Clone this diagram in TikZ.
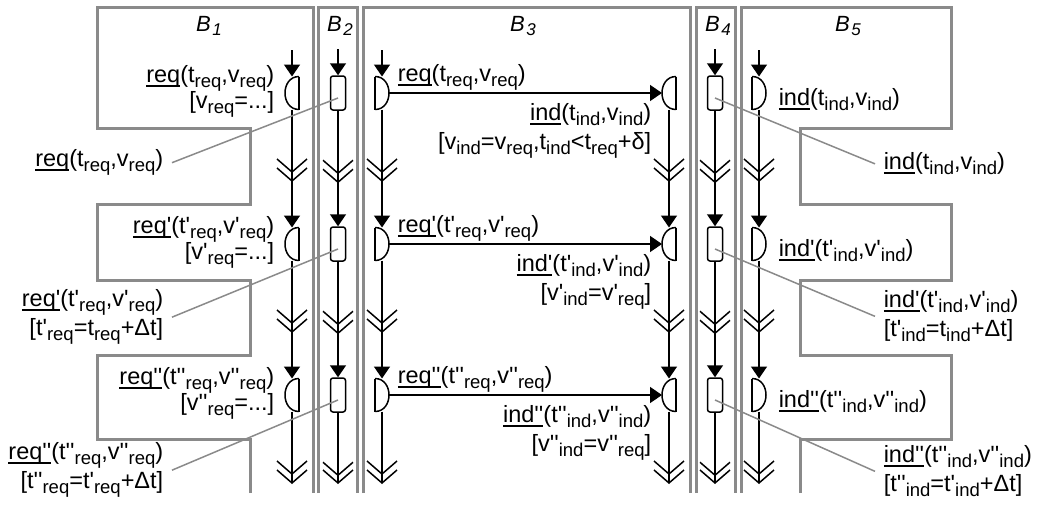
\documentclass[tikz,border=0pt]{standalone}
\usepackage{fontspec}
\setmainfont{Liberation Sans}
\usetikzlibrary{arrows.meta, decorations.markings}

\definecolor{wallgray}{RGB}{138,138,138}
\newcommand{\labfont}{\fontsize{23.5}{29}\selectfont\lineskiplimit=-20pt\relax}
\newcommand{\lo}[1]{\raisebox{-5pt}{\fontsize{18.5}{18.5}\selectfont #1}}
\newcommand{\tk}{\textquotesingle}
\newcommand{\ud}[1]{\setbox0=\hbox{#1}\rlap{\rule[-4pt]{\wd0}{1.5pt}}\box0}
\newcommand{\blk}[1]{\textit{B\kern1.5pt\raisebox{-4.5pt}{\fontsize{17}{17}\selectfont #1}}}

\begin{document}
\begin{tikzpicture}[x=1pt, y=-1pt, line width=1.5pt,
  wall/.style={draw=wallgray, line width=3pt},
  lead/.style={draw=wallgray, line width=1.5pt},
  title/.style={anchor=base, inner sep=0, font=\fontsize{22}{26}\selectfont},
  lab/.style={inner sep=0, font=\labfont},
  buf/.style={draw, rounded corners=2.5pt, minimum width=15pt, minimum height=34pt, inner sep=0},
  portl/.style={minimum width=14pt, minimum height=33pt, inner sep=0, outer sep=0,
    append after command={(\tikzlastnode.north east) edge (\tikzlastnode.south east)
      (\tikzlastnode.north east) edge[out=180, in=180, looseness=1.45] (\tikzlastnode.south east)}},
  portr/.style={minimum width=14pt, minimum height=33pt, inner sep=0, outer sep=0,
    append after command={(\tikzlastnode.north west) edge (\tikzlastnode.south west)
      (\tikzlastnode.north west) edge[out=0, in=0, looseness=1.45] (\tikzlastnode.south west)}},
  tri/.tip={Triangle[length=12pt, width=16pt]},
  chev/.tip={Straight Barb[length=13pt, width=30pt]},
  feed/.style={-tri},
  flow/.style={-tri, postaction=decorate, decoration={markings,
    mark=at position 63.5pt with {\arrow{chev}}, mark=at position 72.5pt with {\arrow{chev}}}},
  flowend/.style={-chev, postaction=decorate, decoration={markings,
    mark=at position 63.5pt with {\arrow{chev}}}}
]
\useasboundingbox (0,0) rectangle (1039,506);

% Blocks
\draw[wall] (250,493) |- (97,439) |- (250,355) |- (97,280) |- (250,204) |- (97,128) |- (313,7) -- (313,493);
\draw[wall] (318,493) |- (357,7) -- (357,493);
\draw[wall] (363,493) |- (690,7) -- (690,493);
\draw[wall] (696,493) |- (735,7) -- (735,493);
\draw[wall] (800,493) |- (951,439) |- (800,355) |- (951,280) |- (800,204) |- (951,128) |- (741,7) -- (741,493);

\node[title] (tb1) at (209,31) {\blk{1}};
\node[title] (tb2) at (340,31) {\blk{2}};
\node[title] (tb3) at (523,31) {\blk{3}};
\node[title] (tb4) at (718,31) {\blk{4}};
\node[title] (tb5) at (848,31) {\blk{5}};

% Ports
\node[portl] (snd1) at (292,93) {};  \node[buf] (buf1) at (338,93) {};  \node[portr] (out1) at (382,93) {};
\node[portl] (in1) at (669,93) {};   \node[buf] (cpy1) at (715,93) {};  \node[portr] (rcv1) at (759,93) {};
\node[portl] (snd2) at (292,244) {}; \node[buf] (buf2) at (338,244) {}; \node[portr] (out2) at (382,244) {};
\node[portl] (in2) at (669,244) {};  \node[buf] (cpy2) at (715,244) {}; \node[portr] (rcv2) at (759,244) {};
\node[portl] (snd3) at (292,395) {}; \node[buf] (buf3) at (338,395) {}; \node[portr] (out3) at (382,395) {};
\node[portl] (in3) at (669,395) {};  \node[buf] (cpy3) at (715,395) {}; \node[portr] (rcv3) at (759,395) {};
\coordinate (bot) at (0,484);

% Lifelines
\draw[feed] (snd1.north) ++(0,-26.5) -- (snd1.north);
\draw[feed] (buf1.north) ++(0,-26) -- (buf1.north);
\draw[feed] (out1.north) ++(0,-26.5) -- (out1.north);
\draw[feed] (cpy1.north) ++(0,-26) -- (cpy1.north);
\draw[feed] (rcv1.north) ++(0,-26.5) -- (rcv1.north);

\draw[flow] (snd1.south) -- (snd2.north);  \draw[flow] (snd2.south) -- (snd3.north);  \draw[flowend] (snd3.south) -- (snd3.south |- bot);
\draw[flow] (buf1.south) -- (buf2.north);  \draw[flow] (buf2.south) -- (buf3.north);  \draw[flowend] (buf3.south) -- (buf3.south |- bot);
\draw[flow] (out1.south) -- (out2.north);  \draw[flow] (out2.south) -- (out3.north);  \draw[flowend] (out3.south) -- (out3.south |- bot);
\draw[flow] (in1.south) -- (in2.north);    \draw[flow] (in2.south) -- (in3.north);    \draw[flowend] (in3.south) -- (in3.south |- bot);
\draw[flow] (cpy1.south) -- (cpy2.north);  \draw[flow] (cpy2.south) -- (cpy3.north);  \draw[flowend] (cpy3.south) -- (cpy3.south |- bot);
\draw[flow] (rcv1.south) -- (rcv2.north);  \draw[flow] (rcv2.south) -- (rcv3.north);  \draw[flowend] (rcv3.south) -- (rcv3.south |- bot);

% Signals
\draw[feed] (out1.east) -- (in1.west);
\draw[feed] (out2.east) -- (in2.west);
\draw[feed] (out3.east) -- (in3.west);

% Labels
\node[lab, align=right, anchor=north east] (lsnd1) at (275,65) {\ud{req}(t\lo{req},v\lo{req})\\[-3pt]{}[v\lo{req}=...]};
\node[lab, anchor=north east] (lbuf1) at (164,149) {\ud{req}(t\lo{req},v\lo{req})};
\node[lab, anchor=north west] (lout1) at (397,64) {\ud{req}(t\lo{req},v\lo{req})};
\node[lab, align=right, anchor=north east] (lin1) at (652,103) {\ud{ind}(t\lo{ind},v\lo{ind})\\{}[v\lo{ind}=v\lo{req},t\lo{ind}<t\lo{req}+δ]};
\node[lab, anchor=north west] (lrcv1) at (778,88) {\ud{ind}(t\lo{ind},v\lo{ind})};
\node[lab, anchor=north west] (lcpy1) at (883,152) {\ud{ind}(t\lo{ind},v\lo{ind})};

\node[lab, align=right, anchor=north east] (lsnd2) at (275,216) {\ud{req\tk}(t\tk\lo{req},v\tk\lo{req})\\[-3pt]{}[v\tk\lo{req}=...]};
\node[lab, align=right, anchor=north east] (lbuf2) at (164,289) {\ud{req\tk}(t\tk\lo{req},v\tk\lo{req})\\{}[t\tk\lo{req}=t\lo{req}+Δt]};
\node[lab, anchor=north west] (lout2) at (397,215) {\ud{req\tk}(t\tk\lo{req},v\tk\lo{req})};
\node[lab, align=right, anchor=north east] (lin2) at (652,254) {\ud{ind\tk}(t\tk\lo{ind},v\tk\lo{ind})\\{}[v\tk\lo{ind}=v\tk\lo{req}]};
\node[lab, anchor=north west] (lrcv2) at (778,239) {\ud{ind\tk}(t\tk\lo{ind},v\tk\lo{ind})};
\node[lab, align=left, anchor=north west] (lcpy2) at (883,290) {\ud{ind\tk}(t\tk\lo{ind},v\tk\lo{ind})\\{}[t\tk\lo{ind}=t\lo{ind}+Δt]};

\node[lab, align=right, anchor=north east] (lsnd3) at (275,367) {\ud{req\tk\tk}(t\tk\tk\lo{req},v\tk\tk\lo{req})\\[-3pt]{}[v\tk\tk\lo{req}=...]};
\node[lab, align=right, anchor=north east] (lbuf3) at (164,442) {\ud{req\tk\tk}(t\tk\tk\lo{req},v\tk\tk\lo{req})\\{}[t\tk\tk\lo{req}=t\tk\lo{req}+Δt]};
\node[lab, anchor=north west] (lout3) at (397,366) {\ud{req\tk\tk}(t\tk\tk\lo{req},v\tk\tk\lo{req})};
\node[lab, align=right, anchor=north east] (lin3) at (652,405) {\ud{ind\tk\tk}(t\tk\tk\lo{ind},v\tk\tk\lo{ind})\\{}[v\tk\tk\lo{ind}=v\tk\tk\lo{req}]};
\node[lab, anchor=north west] (lrcv3) at (778,390) {\ud{ind\tk\tk}(t\tk\tk\lo{ind},v\tk\tk\lo{ind})};
\node[lab, align=left, anchor=north west] (lcpy3) at (883,445) {\ud{ind\tk\tk}(t\tk\tk\lo{ind},v\tk\tk\lo{ind})\\{}[t\tk\tk\lo{ind}=t\tk\lo{ind}+Δt]};

% Leads
\draw[lead] ([xshift=8pt]lbuf1.east) -- ([yshift=-5pt]buf1.center);
\draw[lead] ([xshift=8pt]lbuf2.east) -- ([yshift=-5pt]buf2.center);
\draw[lead] ([xshift=8pt]lbuf3.east) -- ([yshift=-5pt]buf3.center);
\draw[lead] ([xshift=-8pt]lcpy1.west) -- ([yshift=-5pt]cpy1.center);
\draw[lead] ([xshift=-8pt]lcpy2.west) -- ([yshift=-5pt]cpy2.center);
\draw[lead] ([xshift=-8pt]lcpy3.west) -- ([yshift=-5pt]cpy3.center);

\end{tikzpicture}
\end{document}
